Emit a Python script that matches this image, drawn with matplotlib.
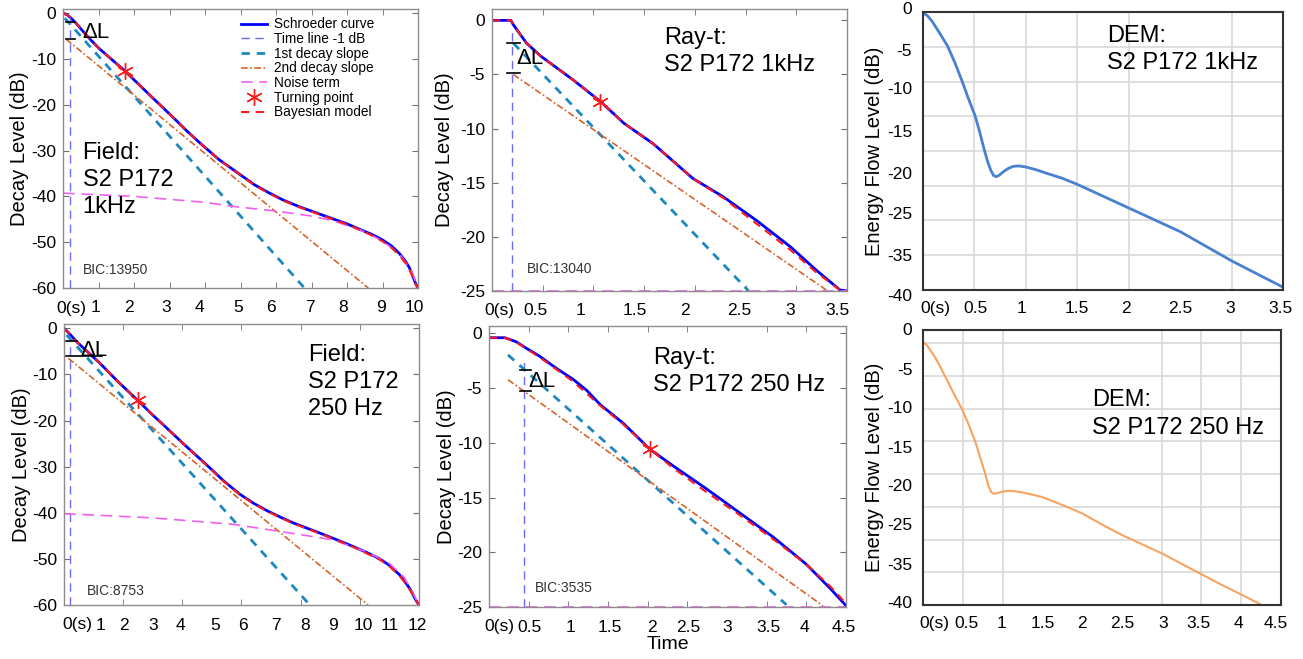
import matplotlib.pyplot as plt
import numpy as np

plt.rcParams['font.family'] = ['Liberation Sans', 'DejaVu Sans']

# ---- Field, S2 P172, 1 kHz ----
t_f1 = [0, 0.1, 0.2, 0.38, 0.6, 0.8, 1.03, 1.4, 1.74, 2.1, 2.54, 3.0, 3.5, 3.85, 4.4, 4.98, 5.4, 5.82,
        6.2, 6.67, 7.1, 7.6, 8.0, 8.36, 8.7, 9.0, 9.25, 9.48, 9.65, 9.76, 9.85, 9.93, 10.0]
L_f1 = [0, -0.3, -0.9, -2.3, -4.3, -6.0, -7.8, -10.3, -12.6, -15.3, -18.6, -22.0, -25.8, -28.3, -32.0, -35.2,
        -37.5, -39.3, -40.8, -42.3, -43.5, -44.9, -46.0, -47.2, -48.3, -49.5, -50.8, -52.5, -54.2, -55.6, -57.3, -59.0, -60]
bay_f1 = [0, -0.3, -0.9, -2.3, -4.3, -6.0, -7.8, -10.3, -12.6, -15.3, -18.6, -22.0, -25.8, -28.3, -32.0, -35.2,
          -37.6, -39.4, -40.9, -42.4, -43.6, -45.0, -46.1, -47.3, -48.5, -49.8, -51.2, -52.9, -54.6, -56.0, -57.6, -59.2, -60]
s1_t_f1 = [0.05, 6.8]
s1_L_f1 = [-1.1, -60]
s2_t_f1 = [0.09, 8.6]
s2_L_f1 = [-5.7, -60]
noise_t_f1 = [0, 2, 4, 4.8, 6, 7, 7.6, 8.4, 9.0, 9.5, 9.8, 10]
noise_L_f1 = [-39.3, -40.0, -41.3, -42.2, -43.2, -44.3, -45.3, -47.4, -49.7, -52.8, -56, -60]
tp_f1 = (1.74, -12.6)
tline_f1 = 0.21
dl_f1 = [-1.9, -5.7]

# ---- Ray-tracing, 1 kHz ----
t_r1 = [0, 0.187, 0.21, 0.34, 0.48, 0.64, 0.80, 1.07, 1.3, 1.59, 1.98, 2.28, 2.61, 2.94, 3.2, 3.43, 3.5]
L_r1 = [0, 0, -0.4, -2.1, -3.3, -4.4, -5.5, -7.5, -9.5, -11.4, -14.6, -16.3, -18.5, -20.9, -23.1, -24.9, -25]
bay_r1 = [0, 0, -0.4, -2.1, -3.3, -4.4, -5.5, -7.5, -9.5, -11.4, -14.6, -16.4, -18.8, -21.2, -23.3, -24.9, -25]
s1_t_r1 = [0.21, 2.53]
s1_L_r1 = [-2.1, -25]
s2_t_r1 = [0.21, 3.31]
s2_L_r1 = [-5.0, -25]
tp_r1 = (1.066, -7.5)
tline_r1 = 0.197
dl_r1 = [-2.1, -4.85]

# ---- DEM, 1 kHz ----
t_d1 = [0, 0.04, 0.087, 0.16, 0.239, 0.31, 0.379, 0.44, 0.508, 0.55, 0.595, 0.63, 0.66, 0.685, 0.71, 0.74,
        0.78, 0.83, 0.88, 0.93, 1.0, 1.1, 1.2, 1.35, 1.5, 1.75, 2.0, 2.25, 2.5, 2.75, 3.0, 3.25, 3.5]
L_d1 = [-0.1, -0.5, -1.3, -3.0, -4.9, -7.3, -9.9, -12.4, -15.0, -17.2, -19.8, -21.6, -22.8, -23.5, -23.7, -23.5,
        -23.0, -22.5, -22.2, -22.15, -22.3, -22.7, -23.2, -23.9, -24.8, -26.5, -28.2, -29.9, -31.6, -33.7, -35.8, -37.7, -39.6]
ylab_d1 = ['0', '-5', '-10', '-15', '-20', '-25', '-35', '-40']

# ---- Field, S2 P172, 250 Hz ----
t_f2 = [0, 0.15, 0.43, 0.8, 1.22, 1.8, 2.49, 3.0, 3.47, 4.1, 4.82, 5.4, 5.95, 6.4, 6.85, 7.3, 7.75, 8.2,
        8.65, 9.2, 9.77, 10.2, 10.68, 11.0, 11.35, 11.6, 11.75, 11.88, 12]
L_f2 = [0, -0.9, -2.9, -5.1, -7.6, -11.4, -15.6, -18.8, -21.6, -25.4, -29.6, -33.1, -36.0, -37.9, -39.5, -40.9,
        -42.2, -43.3, -44.4, -45.8, -47.3, -48.5, -50.0, -51.4, -53.5, -55.6, -57.1, -58.8, -60]
bay_f2 = [0, -0.9, -2.9, -5.1, -7.6, -11.4, -15.6, -18.8, -21.6, -25.4, -29.7, -33.2, -36.1, -38.0, -39.6, -41.0,
          -42.3, -43.4, -44.5, -45.9, -47.4, -48.7, -50.2, -51.6, -53.7, -55.8, -57.3, -58.9, -60]
s1_t_f2 = [0.09, 8.31]
s1_L_f2 = [-1.45, -60]
s2_t_f2 = [0.15, 10.28]
s2_L_f2 = [-6.5, -60]
noise_t_f2 = [0, 3, 5.72, 7.97, 9.1, 10.2, 11.0, 11.5, 11.8, 12]
noise_L_f2 = [-40.2, -41.1, -42.5, -44.7, -45.9, -48.4, -51.0, -54.0, -57.5, -60]
tp_f2 = (2.49, -15.6)
tline_f2 = 0.2
dl_f2 = [-2.7, -6.0]

# ---- Ray-tracing, 250 Hz ----
t_r2 = [0, 0.2, 0.34, 0.47, 0.64, 0.85, 1.06, 1.23, 1.40, 1.69, 2.03, 2.32, 2.74, 3.16, 3.58, 4.0, 4.3, 4.49, 4.5]
L_r2 = [-0.4, -0.4, -0.76, -1.36, -2.1, -3.2, -4.2, -5.2, -6.5, -8.2, -10.6, -12.1, -14.2, -16.4, -18.6, -21.1, -23.3, -24.8, -25.0]
bay_r2 = [-0.4, -0.4, -0.8, -1.4, -2.2, -3.3, -4.4, -5.5, -6.6, -8.3, -10.6, -12.3, -14.5, -16.6, -18.8, -21.1, -23.1, -24.6, -25.0]
s1_t_r2 = [0.24, 3.75]
s1_L_r2 = [-1.97, -24.8]
s2_t_r2 = [0.24, 4.21]
s2_L_r2 = [-4.24, -24.9]
tp_r2 = (2.03, -10.6)
tline_r2 = 0.44
dl_r2 = [-3.33, -5.3]

# ---- DEM, 250 Hz ----
t_d2 = [0, 0.05, 0.134, 0.2, 0.28, 0.38, 0.49, 0.58, 0.658, 0.72, 0.783, 0.82, 0.855, 0.89, 0.93, 0.99, 1.056,
        1.15, 1.25, 1.4, 1.5, 1.75, 2.0, 2.25, 2.5, 2.75, 3.0, 3.25, 3.5, 3.75, 4.0, 4.26]
L_d2 = [0.2, -0.3, -1.8, -3.2, -5.1, -7.5, -10.05, -12.6, -15.05, -17.5, -20.0, -21.7, -22.7, -23.0, -22.9, -22.7,
        -22.55, -22.6, -22.8, -23.2, -23.5, -24.7, -26.0, -27.7, -29.3, -30.7, -32.1, -33.7, -35.3, -36.9, -38.4, -40.0]
ylab_d2 = ['0', '-5', '-10', '-15', '-20', '-25', '-35', '-40']

W, H = 1303, 659
fig = plt.figure(figsize=(W / 100, H / 100), dpi=100)


def add_ax(l, r, t, b):
    return fig.add_axes([l / W, 1 - b / H, (r - l) / W, (b - t) / H])


C_SCH = '#0000ff'
C_TL = '#6b6bff'
C_S1 = '#1c88bf'
C_S2 = '#d8622a'
C_NO = '#f060f0'
C_BAY = '#ff1a1a'
TICK_FS = 12.5


def set_xlabels(ax, pos, labels):
    # tick labels sit where the original figure put them; marks stay on the minor ticks
    ax.set_xticks(pos)
    ax.set_xticklabels(labels)


def matlab_panel(ax, t, L, bay, s1t, s1L, s2t, s2L, nt, nL, tp, tl, dl, dl_x, xmax, ylim, yticks,
                 xmarks, xlab_pos, xlabs):
    ax.plot(t, L, color=C_SCH, lw=2, label='Schroeder curve')
    ax.plot([tl, tl], [ylim[0], dl[0] + 1.0], color=C_TL, lw=1, ls=(0, (6, 4)), label='Time line -1 dB')
    ax.plot(s1t, s1L, color=C_S1, lw=2, ls=(0, (3, 2.5)), label='1st decay slope')
    ax.plot(s2t, s2L, color=C_S2, lw=1.2, ls=(0, (4, 1.5, 1, 1.5)), label='2nd decay slope')
    ax.plot(nt, nL, color=C_NO, lw=1.2, ls=(0, (7, 4)), label='Noise term', clip_on=False)
    ax.plot([tp[0]], [tp[1]], ls='none', marker=(6, 2, 0), ms=12, mew=1, color=C_BAY, label='Turning point')
    ax.plot(t, bay, color=C_BAY, lw=1.5, ls=(0, (4, 3)), label='Bayesian model')
    for y, (x0, x1) in zip(dl, dl_x):
        ax.plot([x0, x1], [y, y], color='k', lw=1.2)
    ax.set_xlim(0, xmax)
    ax.set_ylim(*ylim)
    set_xlabels(ax, xlab_pos, xlabs)
    ax.set_xticks(xmarks, minor=True)
    ax.set_yticks(yticks)
    ax.set_yticklabels([f'{v:g}' for v in yticks])
    ax.tick_params(axis='x', which='major', length=0, labelsize=TICK_FS, pad=9)
    ax.tick_params(axis='x', which='minor', direction='in', top=True, bottom=True, length=4, color='#707070')
    ax.tick_params(axis='y', direction='in', right=True, left=True, length=4, color='#707070',
                   labelsize=TICK_FS, pad=5)
    for s in ax.spines.values():
        s.set_color('#8c8c8c')
        s.set_linewidth(1)
    ax.set_ylabel('Decay Level (dB)', fontsize=14.5)


def dem_panel(ax, t, L, color, lw, xmax, ytop, ylabs, ypos, xlab_pos):
    ax.plot(t, L, color=color, lw=lw)
    ax.set_xlim(0, xmax)
    ax.set_ylim(-40, ytop)
    xt = np.arange(0, xmax + 0.01, 0.5)
    ax.set_xticks(xt, minor=True)
    set_xlabels(ax, xlab_pos, ['0(s)'] + [f'{v:g}' for v in xt[1:]])
    ax.set_yticks(np.arange(-40, 0.1, 5))
    ax.set_yticklabels([])
    ax.grid(True, which='minor', axis='x', color='#d9d9d9', lw=1.2)
    ax.grid(True, which='major', axis='y', color='#d9d9d9', lw=1.2)
    ax.tick_params(which='both', length=0, labelsize=TICK_FS, pad=8)
    for lab, y in zip(ylabs, ypos):
        ax.text(-0.03, y, lab, transform=ax.get_yaxis_transform(), ha='right', va='center', fontsize=TICK_FS)
    for s in ax.spines.values():
        s.set_color('#333333')
        s.set_linewidth(1.5)
    ax.set_ylabel('Energy Flow Level (dB)', fontsize=14.5)
    ax.yaxis.set_label_coords(-0.108, 0.5)


ANN = dict(fontsize=17, ha='left', va='center', linespacing=1.3)
BIC = dict(fontsize=10, ha='left', va='center', color='#333333')

# top-left
ax1 = add_ax(63, 418, 9, 288)
matlab_panel(ax1, t_f1, L_f1, bay_f1, s1_t_f1, s1_L_f1, s2_t_f1, s2_L_f1, noise_t_f1, noise_L_f1,
             tp_f1, tline_f1, dl_f1, [(0.08, 0.33), (0.08, 0.33)], 10, (-60, 0.9), list(range(0, -61, -10)),
             list(range(0, 11)), [0.23, 0.92, 1.86, 2.91, 3.85, 4.93, 5.87, 6.95, 7.89, 8.95, 9.9],
             ['0(s)', '1', '2', '3', '4', '5', '6', '7', '8', '9', '10'])
ax1.text(0.55, -4.3, 'ΔL', fontsize=16, ha='left', va='center')
ax1.text(0.55, -36.5, 'Field:\nS2 P172\n1kHz', **ANN)
ax1.text(0.56, -56, 'BIC:13950', **BIC)
ax1.legend(loc='upper left', bbox_to_anchor=(0.49, 0.985), frameon=False, fontsize=9.8,
           handlelength=1.9, labelspacing=0.05, handletextpad=0.5, borderpad=0.3, borderaxespad=0)
ax1.yaxis.set_label_coords(-0.095, 0.5)

# top-middle
ax2 = add_ax(492, 847, 9, 291)
matlab_panel(ax2, t_r1, L_r1, bay_r1, s1_t_r1, s1_L_r1, s2_t_r1, s2_L_r1, [0, 3.5], [-25, -25],
             tp_r1, tline_r1, dl_r1, [(0.15, 0.28), (0.15, 0.28)], 3.5, (-25, 1.05), list(range(0, -26, -5)),
             [0, 0.5, 1, 1.5, 2, 2.5, 3, 3.5], [0.07, 0.43, 0.87, 1.41, 1.9, 2.44, 2.94, 3.41],
             ['0(s)', '0.5', '1', '1.5', '2', '2.5', '3', '3.5'])
ax2.text(0.24, -3.5, 'ΔL', fontsize=16, ha='left', va='center')
ax2.text(1.70, -2.9, 'Ray-t:\nS2 P172 1kHz', **ANN)
ax2.text(0.34, -23.0, 'BIC:13040', **BIC)
ax2.yaxis.set_label_coords(-0.106, 0.5)

# top-right
ax3 = add_ax(923, 1283, 12, 290)
dem_panel(ax3, t_d1, L_d1, '#4a80d0', 2, 3.5, 0, ylab_d1,
          [0.34, -5.66, -11.2, -17.4, -23.4, -29.2, -35.2, -40.9],
          [0.12, 0.51, 0.96, 1.495, 1.97, 2.5, 2.99, 3.48])
ax3.text(1.79, -5.4, 'DEM:\nS2 P172 1kHz', **ANN)

# bottom-left
ax4 = add_ax(64, 419, 324, 605)
matlab_panel(ax4, t_f2, L_f2, bay_f2, s1_t_f2, s1_L_f2, s2_t_f2, s2_L_f2, noise_t_f2, noise_L_f2,
             tp_f2, tline_f2, dl_f2, [(0.07, 0.44), (0.07, 1.27)], 12, (-60, 0.95), list(range(0, -61, -10)),
             list(range(0, 13, 2)),
             [0.45, 1.22, 2.03, 3.0, 3.95, 5.1, 6.06, 7.16, 8.14, 9.1, 10.11, 11.01, 11.95],
             ['0(s)', '1', '2', '3', '4', '5', '6', '7', '8', '9', '10', '11', '12'])
ax4.text(0.54, -4.7, 'ΔL', fontsize=16, ha='left', va='center')
ax4.text(8.25, -11.6, 'Field:\nS2 P172\n250 Hz', **ANN)
ax4.text(0.79, -56.9, 'BIC:8753', **BIC)
ax4.yaxis.set_label_coords(-0.092, 0.5)

# bottom-middle
ax5 = add_ax(489, 846, 326, 607)
matlab_panel(ax5, t_r2, L_r2, bay_r2, s1_t_r2, s1_L_r2, s2_t_r2, s2_L_r2, [0, 4.5], [-25, -25],
             tp_r2, tline_r2, dl_r2, [(0.39, 0.53), (0.39, 0.53)], 4.5, (-25, 0.67), list(range(0, -26, -5)),
             [0, 0.5, 1, 1.5, 2, 2.5, 3, 3.5, 4, 4.5],
             [0.13, 0.51, 1.03, 1.52, 2.05, 2.51, 3.0, 3.52, 3.98, 4.47],
             ['0(s)', '0.5', '1', '1.5', '2', '2.5', '3', '3.5', '4', '4.5'])
ax5.text(0.5, -4.4, 'ΔL', fontsize=16, ha='left', va='center')
ax5.text(2.07, -3.5, 'Ray-t:\nS2 P172 250 Hz', **ANN)
ax5.text(0.58, -23.3, 'BIC:3535', **BIC)
ax5.set_xlabel('Time', fontsize=14, labelpad=1)
ax5.yaxis.set_label_coords(-0.092, 0.5)

# bottom-right
ax6 = add_ax(923, 1281, 330, 605)
dem_panel(ax6, t_d2, L_d2, '#f8a460', 1.5, 4.5, 2.04, ylab_d2,
          [2.0, -4.1, -10.0, -16.1, -21.9, -27.8, -33.9, -39.8],
          [0.14, 0.545, 0.99, 1.5, 2.0, 2.5, 3.02, 3.46, 3.97, 4.43])
ax6.text(2.12, -10.8, 'DEM:\nS2 P172 250 Hz', **ANN)

fig.savefig('out.png', dpi=100)
